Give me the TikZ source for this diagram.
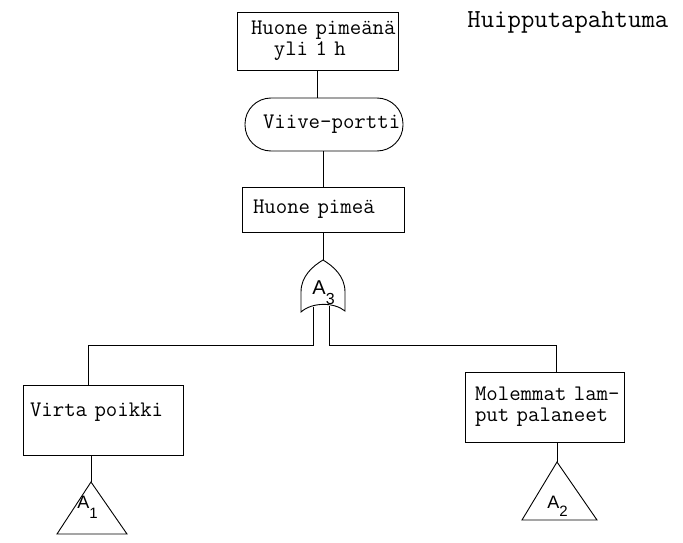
\documentclass[tikz,border=0pt]{standalone}
\usepackage{fontspec}
\setsansfont{Liberation Sans}
\begin{document}
\begin{tikzpicture}[x=1pt,y=-1pt,
  line width=0.9pt,
  every node/.style={font=\ttfamily\fontsize{22.2}{21}\selectfont},
  event/.style={draw, rectangle, align=left, inner ysep=0pt},
  delaygate/.style={draw, rectangle, rounded corners=26pt, align=left, inner ysep=0pt},
  gatelabel/.style={font=\sffamily\fontsize{18}{18}\selectfont, inner sep=0pt, anchor=base west}
]
\useasboundingbox (0,0) rectangle (683,543);

% top event
\node[event, text width=133pt, inner xsep=14pt, minimum height=58pt] (top) at (317.5,41)
  {\mbox{Huone pimeänä}\\\mbox{\phantom{Hu}yli 1 h}};
\node[anchor=west, inner sep=0pt, font=\ttfamily\fontsize{26}{26}\selectfont] (title) at (467,22) {Huipputapahtuma};

% delay gate
\node[delaygate, text width=122pt, inner xsep=18pt, minimum height=53pt] (delay) at (324,124.5) {\mbox{Viive-portti}};

% intermediate event
\node[event, text width=140pt, inner xsep=11pt, minimum height=45pt] (room) at (323,209.5) {\mbox{Huone pimeä}};

% OR gate A3
\coordinate (gate) at (323,260);
\coordinate (gl) at (313,306.5);
\coordinate (gr) at (329,306.3);
\coordinate (bar) at (0,345);
\draw (301,312) -- (301,292)
  .. controls (301,276) and (313,266) .. (gate)
  .. controls (333,266) and (345,276) .. (345,292)
  -- (345,311)
  .. controls (334,302) and (312,302) .. cycle;
\node[gatelabel, font=\sffamily\fontsize{20}{20}\selectfont] (a3) at (312,294) {A\raisebox{-10pt}{\fontsize{16}{16}\selectfont 3}};

% basic events
\node[event, text width=146pt, inner xsep=7pt, minimum height=70pt] (virta) at (103,420) {\mbox{Virta poikki}\\\mbox{}};
\node[event, text width=139pt, inner xsep=10pt, minimum height=70pt] (lamput) at (544.5,407) {\mbox{Molemmat lam-}\\\mbox{put palaneet}};

% transfer triangles
\coordinate (t1) at (91,482);
\coordinate (t2) at (557,462);
\draw (t1) -- (127,534) -- (57,534) -- cycle;
\draw (t2) -- (597,520) -- (522,520) -- cycle;
\node[gatelabel] (a1) at (77,508) {A\raisebox{-10pt}{\fontsize{15}{15}\selectfont 1}};
\node[gatelabel] (a2) at (547,508) {A\raisebox{-8pt}{\fontsize{15}{15}\selectfont 2}};

% connectors
\draw (top.south) -- (top.south |- delay.north);
\draw (delay.south -| room.north) -- (room.north);
\draw (room.south) -- (gate);
\draw (gl) -- (gl |- bar) -| ([xshift=-15pt]virta.north);
\draw (gr) -- (gr |- bar) -| ([xshift=12pt]lamput.north);
\draw ([xshift=-12pt]virta.south) -- (t1);
\draw (lamput.south -| t2) -- (t2);
\end{tikzpicture}
\end{document}
